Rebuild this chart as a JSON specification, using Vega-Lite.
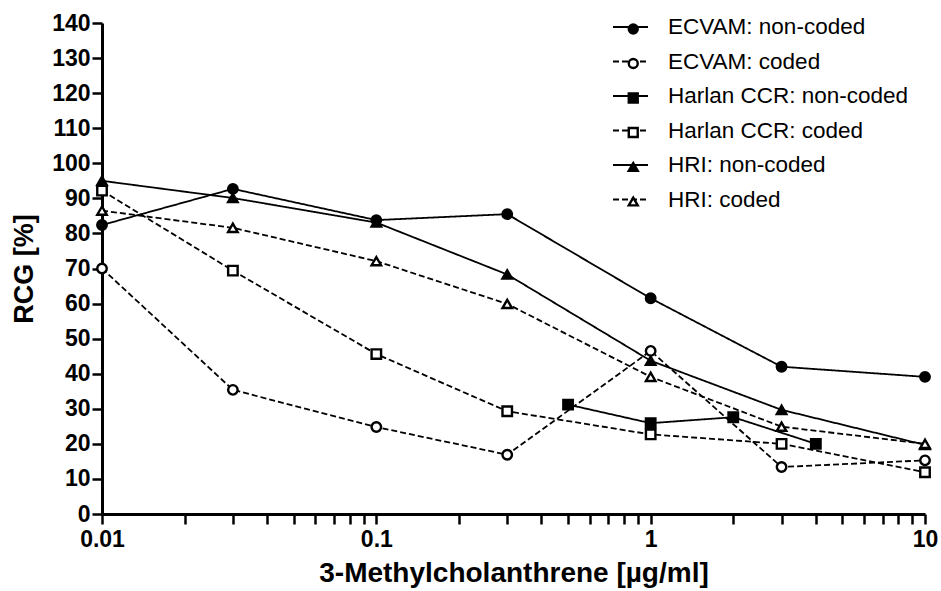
{
  "$schema": "https://vega.github.io/schema/vega-lite/v6.json",
  "width": 823,
  "height": 491,
  "autosize": {"type": "none"},
  "padding": {"left": 102, "top": 23, "right": 16, "bottom": 77},
  "background": "white",
  "config": {
    "view": {"stroke": null},
    "font": "Liberation Sans",
    "axis": {
      "grid": false,
      "domainColor": "black",
      "domainWidth": 3,
      "tickColor": "black",
      "tickWidth": 2.5,
      "tickSize": 10,
      "labelColor": "black",
      "labelFont": "Liberation Sans",
      "labelFontWeight": "bold",
      "labelFontSize": 23,
      "titleColor": "black",
      "titleFont": "Liberation Sans",
      "titleFontWeight": "bold"
    },
    "legend": {
      "labelFont": "Liberation Sans",
      "labelFontSize": 22.5,
      "labelColor": "black",
      "labelLimit": 0,
      "clipHeight": 22,
      "padding": 0
    }
  },
  "data": {
    "values": [
      {"s": "ECVAM: non-coded", "x": 0.01, "y": 82.4},
      {"s": "ECVAM: non-coded", "x": 0.03, "y": 92.7},
      {"s": "ECVAM: non-coded", "x": 0.1, "y": 83.8},
      {"s": "ECVAM: non-coded", "x": 0.3, "y": 85.5},
      {"s": "ECVAM: non-coded", "x": 1, "y": 61.5},
      {"s": "ECVAM: non-coded", "x": 3, "y": 42.0},
      {"s": "ECVAM: non-coded", "x": 10, "y": 39.1},
      {"s": "ECVAM: coded", "x": 0.01, "y": 70.0},
      {"s": "ECVAM: coded", "x": 0.03, "y": 35.4},
      {"s": "ECVAM: coded", "x": 0.1, "y": 24.8},
      {"s": "ECVAM: coded", "x": 0.3, "y": 16.9},
      {"s": "ECVAM: coded", "x": 1, "y": 46.5},
      {"s": "ECVAM: coded", "x": 3, "y": 13.4},
      {"s": "ECVAM: coded", "x": 10, "y": 15.3},
      {"s": "Harlan CCR: non-coded", "x": 0.5, "y": 31.2},
      {"s": "Harlan CCR: non-coded", "x": 1, "y": 25.9},
      {"s": "Harlan CCR: non-coded", "x": 2, "y": 27.6},
      {"s": "Harlan CCR: non-coded", "x": 4, "y": 20.0},
      {"s": "Harlan CCR: coded", "x": 0.01, "y": 92.2},
      {"s": "Harlan CCR: coded", "x": 0.03, "y": 69.4},
      {"s": "Harlan CCR: coded", "x": 0.1, "y": 45.6},
      {"s": "Harlan CCR: coded", "x": 0.3, "y": 29.3},
      {"s": "Harlan CCR: coded", "x": 1, "y": 22.7},
      {"s": "Harlan CCR: coded", "x": 3, "y": 20.0},
      {"s": "Harlan CCR: coded", "x": 10, "y": 11.9},
      {"s": "HRI: non-coded", "x": 0.01, "y": 95.0},
      {"s": "HRI: non-coded", "x": 0.03, "y": 90.1},
      {"s": "HRI: non-coded", "x": 0.1, "y": 83.1},
      {"s": "HRI: non-coded", "x": 0.3, "y": 68.3},
      {"s": "HRI: non-coded", "x": 1, "y": 43.7},
      {"s": "HRI: non-coded", "x": 3, "y": 29.7},
      {"s": "HRI: non-coded", "x": 10, "y": 19.7},
      {"s": "HRI: coded", "x": 0.01, "y": 86.5},
      {"s": "HRI: coded", "x": 0.03, "y": 81.6},
      {"s": "HRI: coded", "x": 0.1, "y": 72.1},
      {"s": "HRI: coded", "x": 0.3, "y": 59.9},
      {"s": "HRI: coded", "x": 1, "y": 39.1},
      {"s": "HRI: coded", "x": 3, "y": 24.9},
      {"s": "HRI: coded", "x": 10, "y": 20.0}
    ]
  },
  "encoding": {
    "x": {
      "field": "x",
      "type": "quantitative",
      "scale": {"type": "log", "domain": [0.01, 10], "nice": false},
      "axis": {
        "title": "3-Methylcholanthrene [µg/ml]",
        "titleFontSize": 28,
        "values": [0.01, 0.02, 0.03, 0.04, 0.05, 0.06, 0.07, 0.08, 0.09, 0.1, 0.2, 0.3, 0.4, 0.5, 0.6, 0.7, 0.8, 0.9, 1, 2, 3, 4, 5, 6, 7, 8, 9, 10],
        "format": "~g",
        "labelExpr": "(datum.value == 0.01 || datum.value == 0.1 || datum.value == 1 || datum.value == 10) ? datum.label : ''",
        "labelOverlap": false,
        "labelFlush": false,
        "labelPadding": 4,
        "titlePadding": 8
      }
    },
    "y": {
      "field": "y",
      "type": "quantitative",
      "scale": {"domain": [0, 140], "nice": false},
      "axis": {
        "title": "RCG [%]",
        "titleFontSize": 27,
        "values": [0, 10, 20, 30, 40, 50, 60, 70, 80, 90, 100, 110, 120, 130, 140],
        "labelPadding": 2,
        "titlePadding": 13
      }
    }
  },
  "layer": [
    {
      "mark": {"type": "line", "color": "black", "strokeWidth": 1.8},
      "encoding": {
        "strokeDash": {
          "field": "s",
          "type": "nominal",
          "sort": ["ECVAM: non-coded", "ECVAM: coded", "Harlan CCR: non-coded", "Harlan CCR: coded", "HRI: non-coded", "HRI: coded"],
          "scale": {"range": [[1, 0], [6, 3], [1, 0], [6, 3], [1, 0], [6, 3]]},
          "legend": {
            "title": null,
            "orient": "none",
            "legendX": 510,
            "legendY": -7,
            "rowPadding": 11.5,
            "symbolType": "stroke",
            "symbolSize": 1225,
            "symbolStrokeWidth": 2,
            "symbolStrokeColor": "black",
            "labelOffset": 19
          }
        }
      }
    },
    {
      "mark": {"type": "point", "stroke": "black", "strokeWidth": 2.4, "opacity": 1, "size": 90},
      "encoding": {
        "shape": {
          "field": "s",
          "type": "nominal",
          "scale": {
            "domain": ["ECVAM: non-coded", "ECVAM: coded", "Harlan CCR: non-coded", "Harlan CCR: coded", "HRI: non-coded", "HRI: coded"],
            "range": ["circle", "circle", "square", "square", "triangle-up", "triangle-up"]
          },
          "legend": {
            "title": null,
            "orient": "none",
            "legendX": 520,
            "legendY": -5,
            "rowPadding": 11.5,
            "symbolSize": 80,
            "symbolStrokeWidth": 2.4,
            "labelExpr": "''",
            "labelOffset": 0
          }
        },
        "fill": {
          "field": "s",
          "type": "nominal",
          "scale": {
            "domain": ["ECVAM: non-coded", "ECVAM: coded", "Harlan CCR: non-coded", "Harlan CCR: coded", "HRI: non-coded", "HRI: coded"],
            "range": ["black", "white", "black", "white", "black", "white"]
          }
        }
      }
    }
  ]
}
